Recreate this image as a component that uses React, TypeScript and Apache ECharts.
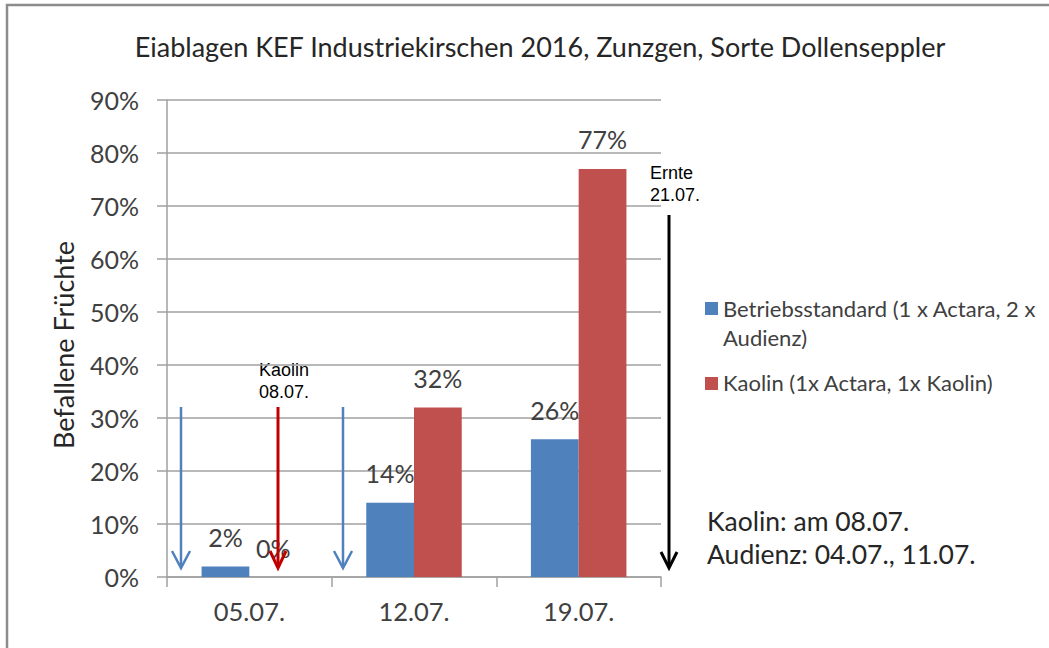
import React, { useEffect, useRef } from "react";
import * as echarts from "echarts";

const categories = ["05.07.", "12.07.", "19.07."];
const betriebsValues = [2, 14, 26];
const kaolinValues = [0, 32, 77];
const seriesNames = [
  "Betriebsstandard (1 x Actara, 2 x Audienz)",
  "Kaolin (1x Actara, 1x Kaolin)",
];
const titleText = "Eiablagen KEF Industriekirschen 2016, Zunzgen, Sorte Dollenseppler";
const yAxisTitle = "Befallene Früchte";
const noteLines = ["Kaolin: am 08.07.", "Audienz: 04.07., 11.07."];

const BLUE = "#4f81bd";
const RED = "#c0504d";
const GRID = "#a0a0a0";
const TXT = "#404040";
const FONT = "Lato, 'Open Sans', sans-serif";
const ARIAL = "'Liberation Sans', Arial, sans-serif";

function arrow(x: number, y1: number, y2: number, color: string, w: number, hw: number, hh: number) {
  return [
    { type: "line", shape: { x1: x, y1, x2: x, y2: y2 - 1 }, style: { stroke: color, lineWidth: w }, z: 100 },
    {
      type: "polyline",
      shape: { points: [[x - hw, y2 - hh], [x, y2], [x + hw, y2 - hh]] },
      style: { stroke: color, lineWidth: w, fill: null },
      z: 100,
    },
  ];
}

export default function App() {
  const ref = useRef<HTMLDivElement>(null);
  useEffect(() => {
    if (!ref.current) return;
    const chart = echarts.init(ref.current, null, { renderer: "svg" });
    const labelStyle = {
      show: true,
      position: "top",
      distance: 17,
      formatter: "{c}%",
      fontFamily: FONT,
      fontSize: 25,
      color: TXT,
    };
    chart.setOption({
      animation: false,
      backgroundColor: "#ffffff",
      title: {
        text: titleText,
        left: 535,
        top: 28,
        textAlign: "center",
        textStyle: { fontFamily: FONT, fontSize: 27, fontWeight: "normal", color: "#262626" },
      },
      grid: { left: 167, right: 388, top: 100, bottom: 71, containLabel: false },
      xAxis: {
        type: "category",
        data: categories,
        axisLine: { lineStyle: { color: GRID, width: 1.5 } },
        axisTick: { show: true, length: 10, lineStyle: { color: GRID, width: 1.5 } },
        axisLabel: { fontFamily: FONT, fontSize: 25.5, color: TXT, margin: 21 },
      },
      yAxis: {
        type: "value",
        min: 0,
        max: 90,
        interval: 10,
        axisLine: { show: true, lineStyle: { color: GRID, width: 1.5 } },
        axisTick: { show: true, length: 10, lineStyle: { color: GRID, width: 1.5 } },
        splitLine: { lineStyle: { color: GRID, width: 1.5 } },
        axisLabel: { formatter: "{value}%", fontFamily: FONT, fontSize: 25, color: TXT, margin: 28 },
      },
      series: [
        {
          name: seriesNames[0],
          type: "bar",
          data: betriebsValues,
          itemStyle: { color: BLUE },
          barGap: "0%",
          barCategoryGap: "42%",
          label: labelStyle,
        },
        {
          name: seriesNames[1],
          type: "bar",
          data: kaolinValues,
          itemStyle: { color: RED },
          barGap: "0%",
          barCategoryGap: "42%",
          label: labelStyle,
        },
      ],
      graphic: [
        {
          type: "rect",
          shape: { x: 7, y: 5, width: 1100, height: 700 },
          style: { fill: null, stroke: "#8c8c8c", lineWidth: 2.5 },
          z: 0,
          silent: true,
        },
        {
          type: "text",
          x: 63,
          y: 345,
          rotation: Math.PI / 2,
          style: { text: yAxisTitle, fontFamily: FONT, fontSize: 27, fill: "#262626", align: "center", verticalAlign: "middle" },
        },
        // legend
        { type: "rect", shape: { x: 705, y: 302, width: 13, height: 13 }, style: { fill: BLUE } },
        {
          type: "text",
          x: 723,
          y: 294,
          style: {
            text: "Betriebsstandard (1 x Actara, 2 x\nAudienz)",
            fontFamily: FONT,
            fontSize: 22,
            lineHeight: 29,
            fill: TXT,
            align: "left",
            verticalAlign: "top",
          },
        },
        { type: "rect", shape: { x: 705, y: 377, width: 13, height: 13 }, style: { fill: RED } },
        {
          type: "text",
          x: 723,
          y: 382,
          style: { text: seriesNames[1], fontFamily: FONT, fontSize: 22, fill: TXT, align: "left", verticalAlign: "middle" },
        },
        // notes
        {
          type: "text",
          x: 707,
          y: 521,
          style: { text: noteLines[0], fontFamily: FONT, fontSize: 26.5, fill: "#262626", align: "left", verticalAlign: "middle" },
        },
        {
          type: "text",
          x: 707,
          y: 554,
          style: { text: noteLines[1], fontFamily: FONT, fontSize: 26.5, fill: "#262626", align: "left", verticalAlign: "middle" },
        },
        // small annotations
        {
          type: "text",
          x: 259,
          y: 381,
          style: { text: "Kaolin\n08.07.", fontFamily: ARIAL, fontSize: 18, lineHeight: 22, fill: "#000", align: "left", verticalAlign: "middle" },
        },
        {
          type: "text",
          x: 650,
          y: 184,
          style: { text: "Ernte\n21.07.", fontFamily: ARIAL, fontSize: 18, lineHeight: 22, fill: "#000", align: "left", verticalAlign: "middle" },
        },
        ...arrow(181, 407, 568, "#4f81bd", 2.5, 9, 17),
        ...arrow(343, 407, 568, "#4f81bd", 2.5, 9, 17),
        ...arrow(278, 407, 568, "#c00000", 3, 8, 17),
        ...arrow(669, 215, 568, "#000000", 3, 8, 16),
      ],
    });
    return () => chart.dispose();
  }, []);
  return (
    <div
      ref={ref}
      style={{ position: "absolute", left: 0, top: 0, width: 1049, height: 648, background: "#fff" }}
    />
  );
}
